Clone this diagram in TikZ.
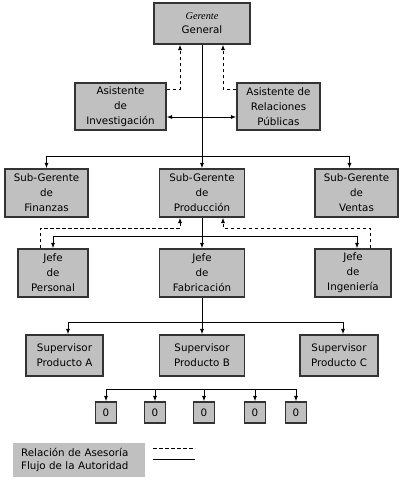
\documentclass[tikz,border=0pt]{standalone}
\usepackage{fontspec}
\setmainfont{DejaVu Sans}
\newfontfamily\gerfont{Liberation Serif}
\usetikzlibrary{arrows.meta,calc}
\definecolor{boxgray}{HTML}{C0C0C0}
\begin{document}
\begin{tikzpicture}[x=1pt, y=-1pt,
    font=\fontsize{10.3}{15}\selectfont,
    box/.style={draw=black!80, line width=1.2pt, fill=boxgray, align=center,
      inner sep=0pt, minimum height=48pt},
    zerobox/.style={box, minimum width=21pt, minimum height=21pt},
    flow/.style={line width=1pt},
    arr/.style={flow, -{Latex[length=5.5pt,width=4pt]}},
    adv/.style={line width=0.9pt, dash pattern=on 3.5pt off 2.5pt},
    advarr/.style={adv, -{Latex[length=5.5pt,width=4pt]}}]
  \useasboundingbox (0,0) rectangle (401,480);

  %% ── Top level ────────────────────────────────────────────
  \node[box, minimum width=96pt, minimum height=41pt,
        font=\fontsize{10.3}{14}\selectfont] (ger) at (202,23.5)
    {{\gerfont\itshape Gerente}\\General};
  \node[box, minimum width=91pt, minimum height=47pt] (asinv) at (120.5,106.5)
    {Asistente\\de\\Investigación};
  \node[box, minimum width=83pt, minimum height=47pt] (asrel) at (278.5,106.5)
    {Asistente de\\Relaciones\\Públicas};

  %% ── Sub-Gerentes ─────────────────────────────────────────
  \node[box, minimum width=83pt] (sgfin) at (46.5,193) {Sub-Gerente\\de\\Finanzas};
  \node[box, minimum width=85pt] (sgpro) at (202,193) {Sub-Gerente\\de\\Producción};
  \node[box, minimum width=83pt] (sgven) at (356.5,193) {Sub-Gerente\\de\\Ventas};

  %% ── Jefes ────────────────────────────────────────────────
  \node[box, minimum width=70pt] (jper) at (53,273) {Jefe\\de\\Personal};
  \node[box, minimum width=85pt] (jfab) at (202,273) {Jefe\\de\\Fabricación};
  \node[box, minimum width=76pt] (jing) at (353,273) {Jefe\\de\\Ingeniería};

  %% ── Supervisores ─────────────────────────────────────────
  \node[box, minimum width=77pt, minimum height=41pt] (supA) at (64.5,355.5)
    {Supervisor\\Producto A};
  \node[box, minimum width=85pt, minimum height=41pt] (supB) at (202,355.5)
    {Supervisor\\Producto B};
  \node[box, minimum width=78pt, minimum height=41pt] (supC) at (339,355.5)
    {Supervisor\\Producto C};

  %% ── Bottom row of zeros ──────────────────────────────────
  \foreach \i/\x in {1/106,2/155,3/204,4/255,5/296}{
    \node[zerobox] (z\i) at (\x,412.5) {0};
  }

  %% ── Authority flow (solid) ───────────────────────────────
  \coordinate (j1) at (202,156);
  \coordinate (j2) at (202,236);
  \coordinate (j3) at (202,322);
  \coordinate (bar) at (0,389);
  \draw[flow] (ger) -- (j1);
  \draw[arr] (j1) -| (sgfin);
  \draw[arr] (j1) -| ([xshift=-7pt]sgven.north);
  \draw[arr] (j1) -- (sgpro);
  \draw[{Latex[length=5.5pt,width=4pt]}-{Latex[length=5.5pt,width=4pt]}, flow]
    ([yshift=-10.5pt]asinv.east) -- ([yshift=-10.5pt]asrel.west);
  \draw[flow] (sgpro) -- (j2);
  \draw[arr] (j2) -| (jper);
  \draw[arr] (j2) -| ([xshift=4pt]jing.north);
  \draw[arr] (j2) -- (jfab);
  \draw[flow] (jfab) -- (j3);
  \draw[arr] (j3) -| ([xshift=3.5pt]supA.north);
  \draw[arr] (j3) -| ([xshift=4pt]supC.north);
  \draw[arr] (j3) -- (supB);
  \draw[flow] (z1 |- bar) -- (z5 |- bar);
  \foreach \i in {1,...,5}{
    \draw[arr] (z\i |- bar) -- (z\i);
  }

  %% ── Advisory relations (dashed) ──────────────────────────
  \draw[advarr] ([yshift=17.5pt]asinv.east) -| ([xshift=-22pt]ger.south);
  \draw[advarr] ([yshift=17.5pt]asrel.west) -| ([xshift=21pt]ger.south);
  \draw[advarr] ([xshift=-13pt]jper.north) -- ++(0,-20) -| ([xshift=-22pt]sgpro.south);
  \draw[advarr] ([xshift=17pt]jing.north) -- ++(0,-20) -| ([xshift=21pt]sgpro.south);

  %% ── Legend ───────────────────────────────────────────────
  \node[fill=boxgray, anchor=north west, text width=116pt, inner xsep=8pt,
        inner ysep=2pt, minimum height=34pt, align=left,
        font=\fontsize{10.3}{13}\selectfont] (leg) at (13,443)
    {Relación de Asesoría\\Flujo de la Autoridad};
  \coordinate (legA) at ($(leg.east)+(8,-12)$);
  \coordinate (legB) at ($(leg.east)+(8,-1)$);
  \draw[adv] (legA) -- ++(42,0);
  \draw[flow] (legB) -- ++(42,0);
\end{tikzpicture}
\end{document}
